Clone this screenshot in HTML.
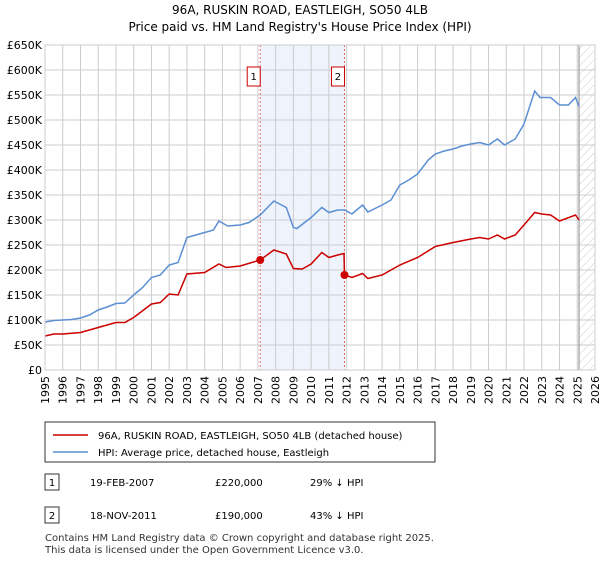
<!DOCTYPE html>
<html><head><meta charset="utf-8"><style>
body{margin:0;background:#fff;font-family:"Liberation Sans","DejaVu Sans",sans-serif;}
svg text{font-family:"DejaVu Sans","Liberation Sans",sans-serif;}
</style></head><body>
<svg width="600" height="560" viewBox="0 0 600 560" xmlns="http://www.w3.org/2000/svg">
<defs><pattern id="hatch" width="6" height="6" patternUnits="userSpaceOnUse" patternTransform="rotate(45)"><line x1="0" y1="0" x2="0" y2="6" stroke="#ccc" stroke-width="1"/></pattern></defs>
<text x="300" y="14" text-anchor="middle" font-size="12">96A, RUSKIN ROAD, EASTLEIGH, SO50 4LB</text>
<text x="300" y="31" text-anchor="middle" font-size="12">Price paid vs. HM Land Registry's House Price Index (HPI)</text>
<g id="plot"></g>
<g id="legend">
<rect x="45" y="422" width="390" height="40" fill="#fff" stroke="#333"/>
<line x1="53" y1="435" x2="88" y2="435" stroke="#cc0000" stroke-width="1.5"/>
<text x="98" y="439" font-size="10">96A, RUSKIN ROAD, EASTLEIGH, SO50 4LB (detached house)</text>
<line x1="53" y1="452" x2="88" y2="452" stroke="#5b8fd4" stroke-width="1.5"/>
<text x="98" y="456" font-size="10">HPI: Average price, detached house, Eastleigh</text>
</g>
<g font-size="10">
<rect x="45" y="474" width="14" height="16" fill="#fff" stroke="#333"/><text x="52" y="486" text-anchor="middle">1</text>
<text x="90" y="486">19-FEB-2007</text><text x="215" y="486">£220,000</text><text x="310" y="486">29% ↓ HPI</text>
<rect x="45" y="507" width="14" height="16" fill="#fff" stroke="#333"/><text x="52" y="519" text-anchor="middle">2</text>
<text x="90" y="519">18-NOV-2011</text><text x="215" y="519">£190,000</text><text x="310" y="519">43% ↓ HPI</text>
</g>
<text x="45" y="541" font-size="10" fill="#333">Contains HM Land Registry data © Crown copyright and database right 2025.</text>
<text x="45" y="553" font-size="10" fill="#333">This data is licensed under the Open Government Licence v3.0.</text>
</svg>
<script>
const yearTicks=[1995,1996,1997,1998,1999,2000,2001,2002,2003,2004,2005,2006,2007,2008,2009,2010,2011,2012,2013,2014,2015,2016,2017,2018,2019,2020,2021,2022,2023,2024,2025,2026];
const priceTicks=[0,50000,100000,150000,200000,250000,300000,350000,400000,450000,500000,550000,600000,650000];
const priceTickLabels=["£0","£50K","£100K","£150K","£200K","£250K","£300K","£350K","£400K","£450K","£500K","£550K","£600K","£650K"];
const hpiYears=[1995,1995.5,1996,1996.5,1997,1997.5,1998,1998.5,1999,1999.5,2000,2000.5,2001,2001.5,2002,2002.5,2003,2003.5,2004,2004.5,2004.8,2005.3,2006,2006.5,2007.13,2007.9,2008.6,2009,2009.2,2010,2010.6,2011,2011.5,2011.9,2012.3,2012.9,2013.2,2014,2014.5,2015,2015.5,2016,2016.6,2017,2017.5,2018,2018.5,2019,2019.5,2020,2020.5,2020.9,2021.5,2022,2022.6,2022.9,2023.5,2024,2024.5,2024.9,2025.1];
const hpiValues=[96000,99000,100000,101000,104000,110000,120000,126000,133000,134000,150000,165000,185000,190000,210000,215000,265000,270000,275000,280000,298000,288000,290000,295000,310000,338000,325000,285000,283000,305000,325000,315000,320000,320000,312000,330000,316000,330000,340000,370000,380000,392000,420000,432000,438000,442000,448000,452000,455000,450000,462000,450000,462000,492000,558000,545000,545000,530000,530000,545000,527000];
const ppYears=[1995,1995.5,1996,1997,1997.5,1998,1999,1999.5,2000,2001,2001.5,2002,2002.5,2003,2004,2004.8,2005.2,2006,2007.13,2007.9,2008.6,2009,2009.5,2010,2010.6,2011,2011.5,2011.85,2011.88,2012.3,2012.9,2013.2,2014,2015,2016,2017,2018,2019,2019.5,2020,2020.5,2020.9,2021.5,2022,2022.6,2023,2023.5,2024,2024.9,2025.1];
const ppValues=[68000,72000,72000,75000,80000,85000,95000,95000,105000,132000,135000,152000,150000,192000,195000,212000,205000,208000,220000,240000,232000,203000,202000,212000,235000,225000,230000,233000,190000,185000,193000,183000,190000,210000,225000,247000,255000,262000,265000,262000,270000,262000,270000,290000,315000,312000,310000,298000,310000,300000];
const saleDates=[2007.13,2011.88];
const salePrices=[220000,190000];
const saleLabels=["1","2"];
const NS="http://www.w3.org/2000/svg";
const L=45,R=595,T=45,B=370;
const xS=y=>L+(y-1995)/(2026-1995)*(R-L);
const yS=v=>B-v/650000*(B-T);
const plot=document.getElementById('plot');
function mk(tag,attrs,parent){const e=document.createElementNS(NS,tag);for(const k in attrs)e.setAttribute(k,attrs[k]);(parent||plot).appendChild(e);return e;}
const shade=mk('rect',{x:xS(saleDates[0]),y:T,width:xS(saleDates[1])-xS(saleDates[0]),height:B-T,fill:'#eef3fc'});


const hatch=mk('rect',{x:xS(2025.1),y:T,width:R-xS(2025.1),height:B-T,fill:'url(#hatch)'});


yearTicks.forEach(yr=>{const g=mk('line',{x1:xS(yr),x2:xS(yr),y1:T,y2:B,stroke:'#ccc'});


const t=mk('text',{x:0,y:0,'font-size':11,'text-anchor':'end',transform:`translate(${xS(yr)+4},${B+6}) rotate(-90)`});t.textContent=yr;

});
priceTicks.forEach((v,i)=>{const g=mk('line',{x1:L,x2:R,y1:yS(v),y2:yS(v),stroke:'#ccc'});


const t=mk('text',{x:L-3,y:yS(v)+4,'font-size':11,'text-anchor':'end'});t.textContent=priceTickLabels[i];

});
const ll=mk('line',{x1:xS(2025.1),x2:xS(2025.1),y1:T,y2:B,stroke:'#888'});


saleDates.forEach((d,i)=>{const l=mk('line',{x1:xS(d),x2:xS(d),y1:T,y2:B,stroke:'#e06666','stroke-dasharray':'2,2'});


const b=mk('rect',{x:xS(d)-13,y:67,width:13,height:19,fill:'#fff',stroke:'#c00'});


const t=mk('text',{x:xS(d)-6.5,y:80,'font-size':10,'text-anchor':'middle'});t.textContent=saleLabels[i];

});
function path(xs,vs,color,name){const d=xs.map((x,i)=>(i?'L':'M')+xS(x).toFixed(1)+','+yS(vs[i]).toFixed(1)).join('');
const p=mk('path',{d:d,fill:'none',stroke:color,'stroke-width':1.5});

}
path(hpiYears,hpiValues,'#5b8fd4','hpi-line');
path(ppYears,ppValues,'#cc0000','property-line');
saleDates.forEach((d,i)=>{const c=mk('circle',{cx:xS(d),cy:yS(salePrices[i]),r:4,fill:'#cc0000'});

});
const fr=mk('rect',{x:L,y:T,width:R-L,height:B-T,fill:'none',stroke:'#ccc'});


</script>
</body></html>
